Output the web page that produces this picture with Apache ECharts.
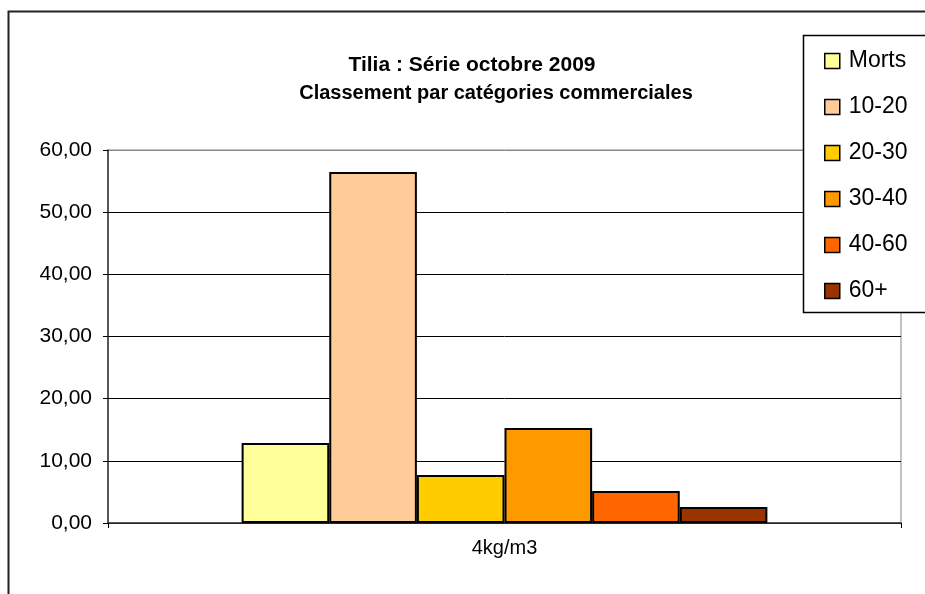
<!DOCTYPE html>
<html>
<head>
<meta charset="utf-8">
<script src="https://cdn.jsdelivr.net/npm/echarts@6/dist/echarts.min.js"></script>
<style>
  html, body { margin: 0; padding: 0; background: #fff; }
  #main { width: 925px; height: 594px; }
</style>
</head>
<body>
<div id="main"></div>
<script>
var categories = ['4kg/m3'];
var seriesNames = ['Morts', '10-20', '20-30', '30-40', '40-60', '60+'];
var seriesValues = [12.87, 56.46, 7.72, 15.28, 5.15, 2.57];
var seriesColors = ['#FFFF99', '#FFCC99', '#FFCC00', '#FF9900', '#FF6600', '#993300'];
var titleLines = ['Tilia : Série octobre 2009', 'Classement par catégories commerciales'];

var chart = echarts.init(document.getElementById('main'));

var series = seriesNames.map(function (name, i) {
  return {
    name: name,
    type: 'bar',
    data: [seriesValues[i]],
    barGap: 0,
    barCategoryGap: '33.7%',
    itemStyle: {
      color: seriesColors[i],
      borderColor: '#000',
      borderWidth: 2
    }
  };
});

var titleFont = 'Liberation Sans, Arial, sans-serif';

var option = {
  animation: false,
  textStyle: { fontFamily: titleFont },
  title: [
    {
      text: titleLines[0],
      left: 472,
      top: 55,
      textAlign: 'center',
      padding: 0,
      textStyle: { fontSize: 21, fontWeight: 'bold', color: '#000', fontFamily: titleFont }
    },
    {
      text: titleLines[1],
      left: 496,
      top: 83,
      textAlign: 'center',
      padding: 0,
      textStyle: { fontSize: 20, fontWeight: 'bold', color: '#000', fontFamily: titleFont }
    }
  ],
  legend: {
    orient: 'vertical',
    left: 824,
    top: 49,
    z: 10,
    itemWidth: 15,
    itemHeight: 15,
    itemGap: 22,
    icon: 'rect',
    padding: 0,
    data: seriesNames,
    itemStyle: { borderColor: '#000', borderWidth: 1.5 },
    textStyle: {
      fontSize: 23,
      color: '#000',
      lineHeight: 24,
      padding: [0, 0, 0, 4],
      fontFamily: titleFont
    }
  },
  grid: {
    left: 108,
    right: 24,
    top: 150,
    bottom: 71,
    show: true,
    borderColor: '#888',
    borderWidth: 1,
    containLabel: false
  },
  xAxis: {
    type: 'category',
    data: categories,
    axisLine: { lineStyle: { color: '#333', width: 1.5 } },
    axisTick: { show: true, length: 5, lineStyle: { color: '#000' } },
    axisLabel: { color: '#000', fontSize: 20, margin: 15 }
  },
  yAxis: {
    type: 'value',
    min: 0,
    max: 60,
    interval: 10,
    axisLine: { show: true, lineStyle: { color: '#333', width: 1.5 } },
    axisTick: { show: true, length: 5, lineStyle: { color: '#000' } },
    axisLabel: {
      color: '#000',
      fontSize: 21,
      margin: 16,
      formatter: function (v) { return v.toFixed(2).replace('.', ','); }
    },
    splitLine: {
      show: true,
      lineStyle: { color: ['#000', '#000', '#000', '#000', '#000', '#000', '#888'], width: 1 }
    }
  },
  graphic: [
    {
      type: 'rect',
      shape: { x: 8.5, y: 11.5, width: 940, height: 600 },
      style: { fill: 'none', stroke: '#222', lineWidth: 2 },
      z: -1
    },
    {
      type: 'rect',
      shape: { x: 803.5, y: 35.5, width: 140, height: 277 },
      style: { fill: '#fff', stroke: '#000', lineWidth: 1.5 },
      z: 5
    }
  ],
  series: series
};

chart.setOption(option);
</script>
</body>
</html>
